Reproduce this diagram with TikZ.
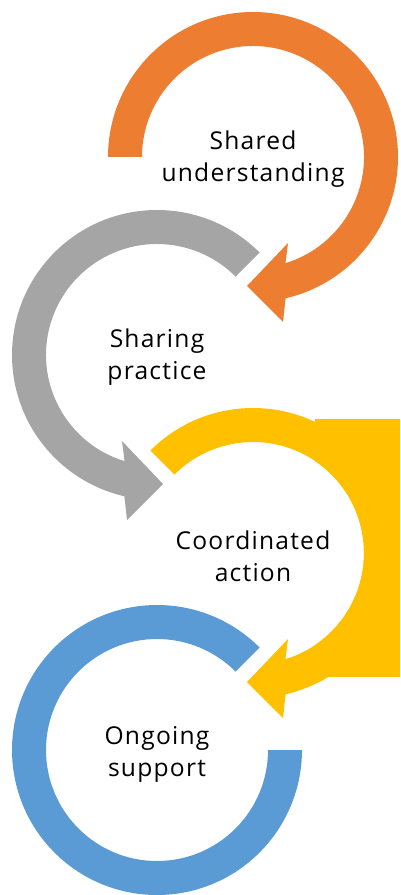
\documentclass[tikz,border=0pt]{standalone}
\usepackage{fontspec}
\setmainfont{Open Sans}[LetterSpace=5]
\definecolor{cOrange}{HTML}{ED7D31}
\definecolor{cGray}{HTML}{A5A5A5}
\definecolor{cYellow}{HTML}{FFC000}
\definecolor{cBlue}{HTML}{5B9BD5}
\begin{document}
\begin{tikzpicture}[x=0.02cm,y=0.02cm,
  ring/.style={draw=none},
  lbl/.style={align=center,font=\fontsize{14}{18.2}\selectfont,text=black,inner sep=0pt}]
\useasboundingbox (0,0) rectangle (400,-895);
% centres
\coordinate (cO) at (253,-157);
\coordinate (cG) at (157,-355);
\coordinate (cY) at (253,-553);
\coordinate (cB) at (157,-750);
% yellow block
\begin{scope}
  \clip (315,-419) rectangle (400,-676);
  \fill[cYellow,even odd rule] (290,-390) rectangle (420,-700) (cY) circle[radius=111];
\end{scope}
% orange
\begin{scope}[shift={(cO)}]
  \fill[cOrange,ring] (180:145) arc[start angle=180,end angle=-77,radius=145]
    -- (30,-165) -- (-6,-129) -- (35,-86) -- (-73:111)
    arc[start angle=-73,end angle=180,radius=111] -- cycle;
\end{scope}
% gray
\begin{scope}[shift={(cG)}]
  \fill[cGray,ring] (45:145) arc[start angle=45,end angle=257,radius=145]
    -- (-30,-165) -- (6,-129) -- (-35,-86) -- (253:111)
    arc[start angle=253,end angle=45,radius=111] -- cycle;
\end{scope}
% yellow
\begin{scope}[shift={(cY)}]
  \fill[cYellow,ring] (135:145) arc[start angle=135,end angle=-77,radius=145]
    -- (30,-165) -- (-6,-129) -- (35,-86) -- (-73:111)
    arc[start angle=-73,end angle=135,radius=111] -- cycle;
\end{scope}
% blue
\begin{scope}[shift={(cB)}]
  \fill[cBlue,ring] (45:145) arc[start angle=45,end angle=360,radius=145]
    -- (0:111) arc[start angle=360,end angle=45,radius=111] -- cycle;
\end{scope}
% labels
\node[lbl] (tO) at (253,-159) {Shared\\understanding};
\node[lbl] (tG) at (157,-357) {Sharing\\practice};
\node[lbl] (tY) at (253,-556) {Coordinated\\action};
\node[lbl] (tB) at (157,-754) {Ongoing\\support};
\end{tikzpicture}
\end{document}
